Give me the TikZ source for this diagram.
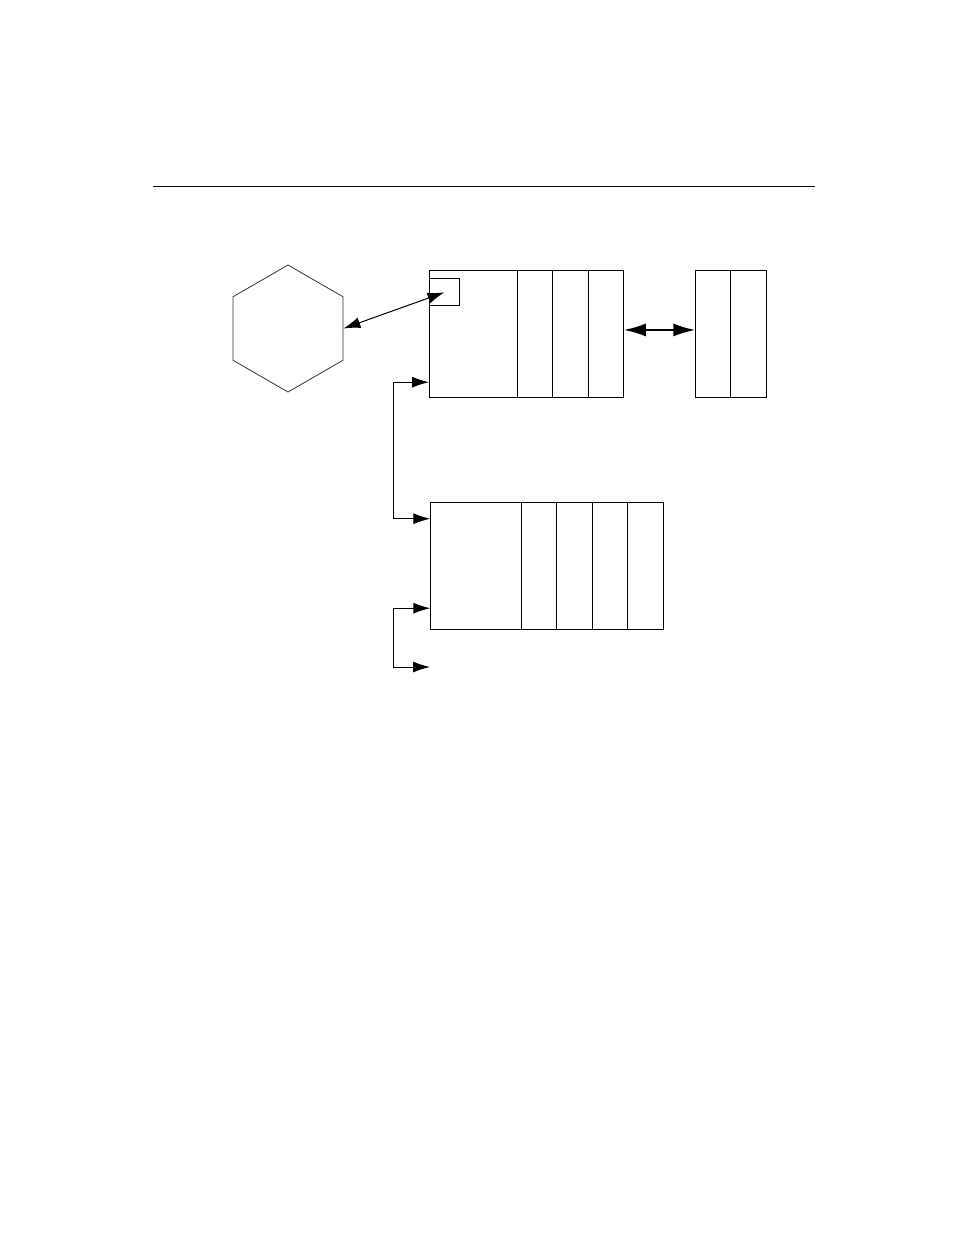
\documentclass[tikz,border=0pt]{standalone}
\usetikzlibrary{positioning,shapes.geometric,arrows.meta}
\begin{document}
\begin{tikzpicture}[x=1pt,y=-1pt]
	\tikzset{cell/.style = {draw, line width=1pt, inner sep=0pt, outer sep=0pt, minimum height=126.5pt}}
	\tikzset{slot/.style = {cell, minimum width=35.5pt}}
	\tikzset{link/.style = {line width=1pt, <->, > = {Latex[length=17pt,width=11pt]}}}
	\useasboundingbox (0,0) rectangle (954,1235);
	% Rule
	\draw[line width=1pt] (153,186) -- (815,186);
	% Hexagon
	\node[regular polygon, regular polygon sides=6, shape border rotate=30, draw=black!80, line width=0.8pt, minimum size=127pt, inner sep=0pt] (hex) at (288,328.5) {};
	% Upper table with its marker
	\node[cell, minimum width=88.3pt, anchor=north west] (A) at (429,270.7) {};
	\node[slot, right=0pt of A] (A1) {};
	\node[slot, right=0pt of A1] (A2) {};
	\node[slot, right=0pt of A2] (A3) {};
	\node[draw, line width=1pt, inner sep=0pt, minimum width=30pt, minimum height=27pt, anchor=north west] (mark) at ([yshift=-7.6pt]A.north west) {};
	% Right table
	\node[slot, anchor=north west] (B1) at (695.3,270.7) {};
	\node[slot, right=0pt of B1] (B2) {};
	% Lower table
	\node[cell, minimum width=91pt, anchor=north west] (C) at (430.3,502.7) {};
	\node[slot, right=0pt of C] (C1) {};
	\node[slot, right=0pt of C1] (C2) {};
	\node[slot, right=0pt of C2] (C3) {};
	\node[slot, right=0pt of C3] (C4) {};
	\coordinate (out) at (430,667);
	% Connections
	\draw[link] (hex.east) -- (mark.center);
	\draw[link, line width=2pt, > = {Latex[length=22pt,width=13pt]}] ([yshift=4pt]A3.east) -- ([yshift=4pt]B1.west);
	\draw[link] ([yshift=15pt]A.south west) -- ++(-36,0) |- ([yshift=-16pt]C.north west);
	\draw[link] ([yshift=21pt]C.south west) -- ++(-37,0) |- (out);
\end{tikzpicture}
\end{document}
